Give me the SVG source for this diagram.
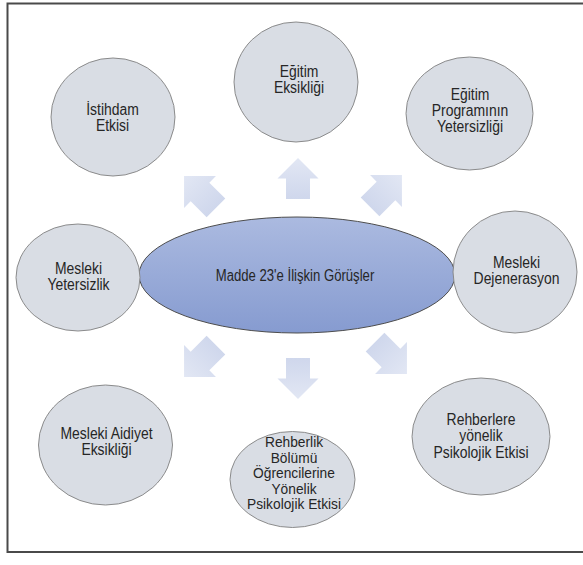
<svg xmlns="http://www.w3.org/2000/svg" width="583" height="565" viewBox="0 0 583 565">
<defs>
<linearGradient id="gCenter" x1="0" y1="0" x2="0" y2="1">
<stop offset="0" stop-color="#abbae0"/>
<stop offset="1" stop-color="#869bd0"/>
</linearGradient>
<linearGradient id="gArrow" x1="0" y1="0" x2="0" y2="1">
<stop offset="0" stop-color="#e2e7f4"/>
<stop offset="1" stop-color="#cfd7ec"/>
</linearGradient>
<path id="arrow" d="M0,-20.5 L20.5,0 L12,0 L12,20.5 L-12,20.5 L-12,0 L-20.5,0 Z"/>
</defs>
<style>
.node{fill:#d9dde4;stroke:#808080;stroke-width:0.9}
.lbl{font-family:"Liberation Sans",Arial,sans-serif;font-size:16px;fill:#262626;text-anchor:middle}
.sm{font-size:14.5px}
.clbl{font-family:"Liberation Sans",Arial,sans-serif;font-size:16px;fill:#262626;text-anchor:middle}
.arr{fill:url(#gArrow)}
</style>
<rect x="0" y="0" width="583" height="565" fill="#ffffff"/>
<path d="M590,3.5 L7.5,3.5 L7.5,552 L590,552" fill="none" stroke="#4a4a4a" stroke-width="2"/>

<g id="connectors">
<use href="#arrow" class="arr" transform="translate(298,178.5)"/>
<use href="#arrow" class="arr" transform="translate(298,378.5) rotate(180)"/>
<use href="#arrow" class="arr" transform="translate(200,192) rotate(-45) scale(1.1)"/>
<use href="#arrow" class="arr" transform="translate(386,191) rotate(45) scale(1.1)"/>
<use href="#arrow" class="arr" transform="translate(200,361) rotate(-135) scale(1.1)"/>
<use href="#arrow" class="arr" transform="translate(391,358) rotate(135) scale(1.1)"/>
</g>

<g id="center">
<ellipse cx="297" cy="275" rx="158" ry="58" fill="url(#gCenter)" stroke="#4d4d4d" stroke-width="1"/>
<g transform="translate(295,0) scale(0.82,1)">
<text class="clbl" x="0" y="281">Madde 23'e İlişkin Görüşler</text>
</g>
</g>

<g id="n-istihdam">
<ellipse class="node" cx="113" cy="117" rx="62" ry="59"/>
<g transform="translate(112.5,0) scale(0.87,1)">
<text class="lbl" x="0" y="115">İstihdam</text>
<text class="lbl" x="0" y="131.5">Etkisi</text>
</g>
</g>

<g id="n-egitim-eksikligi">
<ellipse class="node" cx="296" cy="82" rx="62" ry="60"/>
<g transform="translate(299,0) scale(0.87,1)">
<text class="lbl" x="0" y="77">Eğitim</text>
<text class="lbl" x="0" y="93.5">Eksikliği</text>
</g>
</g>

<g id="n-egitim-programi">
<ellipse class="node" cx="469.5" cy="113.5" rx="63.5" ry="56.5"/>
<g transform="translate(470,0) scale(0.87,1)">
<text class="lbl" x="0" y="100.5">Eğitim</text>
<text class="lbl" x="0" y="116.5">Programının</text>
<text class="lbl" x="0" y="132.5">Yetersizliği</text>
</g>
</g>

<g id="n-dejenerasyon">
<ellipse class="node" cx="515" cy="272" rx="62" ry="61"/>
<g transform="translate(516.5,0) scale(0.87,1)">
<text class="lbl" x="0" y="268">Mesleki</text>
<text class="lbl" x="0" y="284">Dejenerasyon</text>
</g>
</g>

<g id="n-yetersizlik">
<ellipse class="node" cx="78" cy="277.5" rx="62" ry="53.5"/>
<g transform="translate(78.5,0) scale(0.87,1)">
<text class="lbl" x="0" y="274.5">Mesleki</text>
<text class="lbl" x="0" y="290.5">Yetersizlik</text>
</g>
</g>

<g id="n-aidiyet">
<ellipse class="node" cx="105.5" cy="445" rx="67" ry="60"/>
<g transform="translate(106.5,0) scale(0.87,1)">
<text class="lbl" x="0" y="439.5">Mesleki Aidiyet</text>
<text class="lbl" x="0" y="455.5">Eksikliği</text>
</g>
</g>

<g id="n-rehberlik-bolumu">
<ellipse class="node" cx="292.5" cy="479.5" rx="62.5" ry="48"/>
<g transform="translate(294,0) scale(0.95,1)">
<text class="lbl sm" x="0" y="447.5">Rehberlik</text>
<text class="lbl sm" x="0" y="463">Bölümü</text>
<text class="lbl sm" x="0" y="478.5">Öğrencilerine</text>
<text class="lbl sm" x="0" y="494">Yönelik</text>
<text class="lbl sm" x="0" y="509.5">Psikolojik Etkisi</text>
</g>
</g>

<g id="n-rehberlere">
<ellipse class="node" cx="481" cy="436.5" rx="69" ry="58.5"/>
<g transform="translate(481,0) scale(0.87,1)">
<text class="lbl" x="0" y="425">Rehberlere</text>
<text class="lbl" x="0" y="441.5">yönelik</text>
<text class="lbl" x="0" y="458">Psikolojik Etkisi</text>
</g>
</g>
</svg>
